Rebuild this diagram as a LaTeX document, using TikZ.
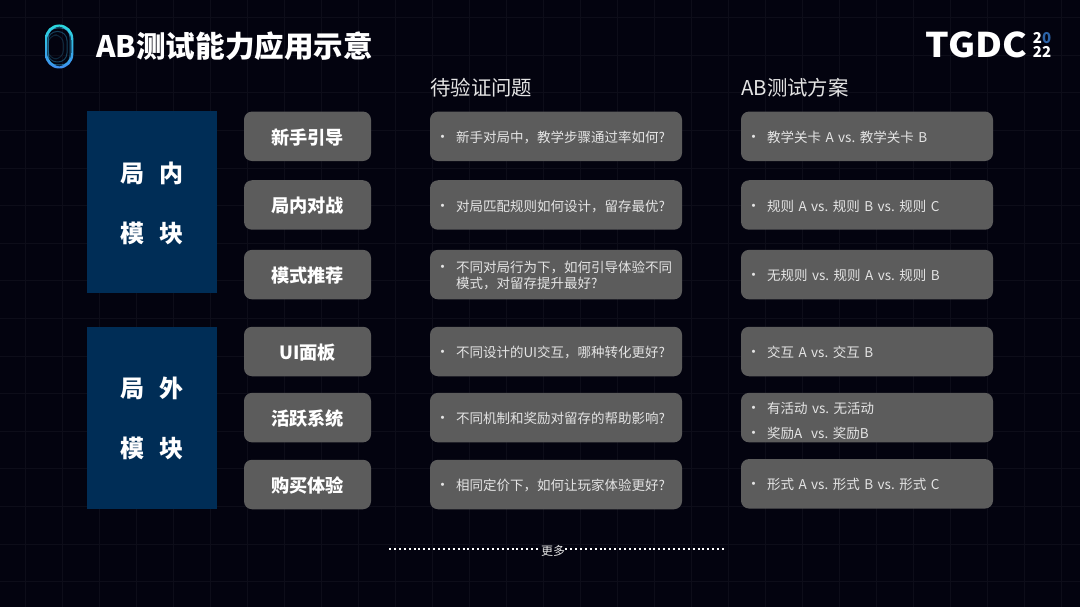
\documentclass[tikz,border=0pt]{standalone}
\usepackage{fontspec}
\setmainfont{Noto Sans CJK SC}
\usepackage{xcolor}
\definecolor{bgdark}{HTML}{03030F}
\definecolor{gridline}{HTML}{0D0D19}
\definecolor{catblue}{HTML}{002D56}
\definecolor{boxgray}{HTML}{5C5C5C}
\definecolor{bodytext}{HTML}{E4E4E4}
\definecolor{logoteal}{HTML}{2BD9DD}
\definecolor{logoblue}{HTML}{3F8DF0}
\frenchspacing
\newcommand{\bulleted}[1]{\makebox[14pt][l]{\rule{0pt}{13.5pt}\hspace*{-7pt}\fontsize{15}{15}\selectfont •}#1}
\newcommand{\cjkcomma}{\symbol{"FF0C}}
\tikzset{
  catbox/.style={fill=catblue, text=white, minimum width=130pt, minimum height=182pt, inner sep=0pt, align=center, font=\fontsize{24}{60}\selectfont\bfseries},
  modbox/.style={fill=boxgray, text=white, rounded corners=8pt, minimum width=127pt, minimum height=49.5pt, inner sep=0pt, text height=17.5pt, text depth=2pt, font=\fontsize{18.2}{22}\selectfont\bfseries},
  infobox/.style={fill=boxgray, text=bodytext, rounded corners=8pt, text width=228pt, minimum height=49.5pt, inner xsep=12pt, inner ysep=0pt, align=left, font=\fontsize{13.5}{16.5}\selectfont},
  headtext/.style={text=bodytext, anchor=west, inner sep=0pt, font=\fontsize{20.4}{24}\selectfont},
  yeartext/.style={inner sep=0pt, text=white, font=\fontsize{15}{15}\selectfont\bfseries}
}

\begin{document}
\begin{tikzpicture}[x=1pt,y=-1pt]
	\useasboundingbox (0,0) rectangle (1080,607);
	\fill[bgdark] (0,0) rectangle (1080,607);
	\foreach \gx in {0,...,29} \draw[gridline, line width=0.6pt] ({25+37*\gx-37},0) -- ({25+37*\gx-37},607);
	\foreach \gy in {0,...,16} \draw[gridline, line width=0.6pt] (0,{17.5+37.6*\gy}) -- (1080,{17.5+37.6*\gy});
	%
	\shade[top color=logoteal, bottom color=logoblue, even odd rule, rounded corners=14pt] (45,24.5) rectangle (73.3,68.5) (47,26.5) rectangle (71.3,66.5);
	\foreach \rr/\rt/\rb/\op in {70/28/65/0.55, 67/31.5/62/0.35, 63.5/35/59/0.2}
		\draw[logoteal!50!logoblue, opacity=\op, rounded corners=9pt, line width=1pt] (48,\rt) rectangle (\rr,\rb);
	\node[anchor=west, inner sep=0pt, text=white, font=\fontsize{29.6}{34}\selectfont\bfseries] (title) at (96,46) {AB测试能力应用示意};
	%
	\node[anchor=west, inner sep=0pt, xscale=1.09, text=white, font=\fontsize{34}{36}\selectfont\bfseries] (tgdc) at (925.5,45) {TGDC};
	\node[yeartext] (yeartop) at (1042,38) {2\textcolor{logoblue!70!black}{0}};
	\node[yeartext] (yearbottom) at (1042,52) {22};
	%
	\node[headtext] (headq) at (430,88) {待验证问题};
	\node[headtext] (heada) at (741,88) {AB测试方案};
	%
	\node[catbox] (inner) at (152,202) {\rule{0pt}{23pt}局\hspace{16pt}内\\模\hspace{16pt}块};
	\node[catbox] (outer) at (152,417.5) {\rule{0pt}{23pt}局\hspace{16pt}外\\模\hspace{16pt}块};
	%
	\node[modbox] (m1) at (307.5,136.3) {新手引导};
	\node[modbox] (m2) at (307.5,205) {局内对战};
	\node[modbox] (m3) at (307.5,274.6) {模式推荐};
	\node[modbox] (m4) at (307.5,351.5) {UI面板};
	\node[modbox] (m5) at (307.5,417.6) {活跃系统};
	\node[modbox] (m6) at (307.5,484.5) {购买体验};
	%
	\node[infobox] (q1) at (556,136.3) {\bulleted{新手对局中\cjkcomma 教学步骤通过率如何?}};
	\node[infobox] (q2) at (556,205) {\bulleted{对局匹配规则如何设计\cjkcomma 留存最优?}};
	\node[infobox] (q3) at (556,274.6) {\bulleted{不同对局行为下\cjkcomma 如何引导体验不同}\\\hspace*{14pt}模式\cjkcomma 对留存提升最好?};
	\node[infobox] (q4) at (556,351.5) {\bulleted{不同设计的UI交互\cjkcomma 哪种转化更好?}};
	\node[infobox] (q5) at (556,417.6) {\bulleted{不同机制和奖励对留存的帮助影响?}};
	\node[infobox] (q6) at (556,484.5) {\bulleted{相同定价下\cjkcomma 如何让玩家体验更好?}};
	%
	\node[infobox] (a1) at (867,136.3) {\bulleted{教学关卡 A vs. 教学关卡 B}};
	\node[infobox] (a2) at (867,205) {\bulleted{规则 A vs. 规则 B vs. 规则 C}};
	\node[infobox] (a3) at (867,274.6) {\bulleted{无规则 vs. 规则 A vs. 规则 B}};
	\node[infobox] (a4) at (867,351.5) {\bulleted{交互 A vs. 交互 B}};
	\node[infobox, font=\fontsize{13.5}{25}\selectfont] (a5) at (867,417.6) {\rule{0pt}{17pt}\bulleted{有活动 vs. 无活动}\\\bulleted{奖励A\ \ vs. 奖励B}};
	\node[infobox] (a6) at (867,483.8) {\bulleted{形式 A vs. 形式 B vs. 形式 C}};
	%
	\node[inner sep=0pt, text=bodytext, font=\fontsize{12}{14}\selectfont] (more) at (553,551) {更多};
	\coordinate (dotsleft) at (389,548.5);
	\coordinate (dotsright) at (725,548.5);
	\draw[white, line width=2pt, dash pattern=on 2pt off 2.9pt] (dotsleft) -- (more.west |- dotsleft);
	\draw[white, line width=2pt, dash pattern=on 2pt off 2.9pt] (more.east |- dotsright) -- (dotsright);
\end{tikzpicture}
\end{document}
